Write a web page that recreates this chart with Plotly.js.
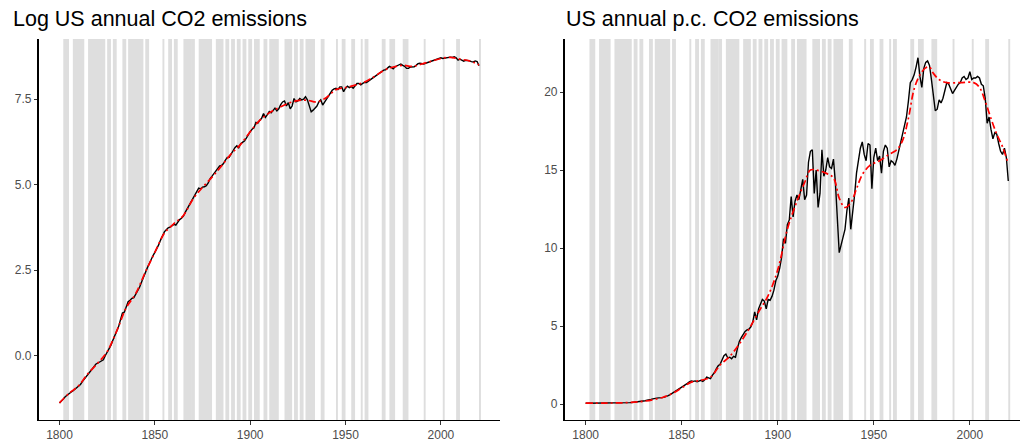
<!DOCTYPE html>
<html>
<head>
<meta charset="utf-8">
<script src="https://cdn.plot.ly/plotly-3.0.1.min.js"></script>
<style>
  html, body { margin: 0; padding: 0; background: #ffffff; }
  #chart { width: 1026px; height: 445px; }
</style>
</head>
<body>
<div id="chart"></div>
<script>
// Annual series, one value per year starting in firstYear
const firstYear = 1800;

// Log of US annual CO2 emissions (million tonnes)
const logCO2 = [
  -1.38, -1.33, -1.27, -1.20, -1.15, -1.10, -1.07, -1.03, -0.98, -0.93,
  -0.90, -0.84, -0.76, -0.68, -0.60, -0.53, -0.47, -0.40, -0.31, -0.25,
  -0.22, -0.19, -0.17, -0.12, 0.00, 0.10, 0.20, 0.31, 0.45, 0.58,
  0.70, 0.85, 1.05, 1.25, 1.27, 1.45, 1.58, 1.62, 1.68, 1.70,
  1.80, 1.90, 2.00, 2.15, 2.30, 2.44, 2.56, 2.68, 2.82, 2.92,
  3.02, 3.12, 3.24, 3.38, 3.52, 3.62, 3.68, 3.74, 3.76, 3.80,
  3.84, 3.82, 3.92, 3.98, 4.02, 4.08, 4.20, 4.30, 4.42, 4.52,
  4.60, 4.70, 4.78, 4.90, 4.88, 4.93, 4.94, 4.97, 5.05, 5.18,
  5.25, 5.33, 5.42, 5.48, 5.55, 5.56, 5.62, 5.72, 5.80, 5.80,
  5.90, 5.97, 6.08, 6.14, 6.08, 6.20, 6.24, 6.28, 6.36, 6.48,
  6.55, 6.62, 6.66, 6.82, 6.80, 6.88, 6.94, 7.08, 6.97, 7.05,
  7.14, 7.10, 7.18, 7.24, 7.16, 7.22, 7.34, 7.42, 7.45, 7.30,
  7.40, 7.22, 7.30, 7.52, 7.42, 7.45, 7.52, 7.48, 7.50, 7.57,
  7.48, 7.32, 7.13, 7.18, 7.24, 7.30, 7.42, 7.48, 7.33, 7.42,
  7.52, 7.60, 7.66, 7.76, 7.80, 7.82, 7.78, 7.86, 7.86, 7.72,
  7.82, 7.88, 7.84, 7.87, 7.82, 7.91, 7.96, 7.96, 7.92, 7.96,
  7.99, 7.99, 8.03, 8.08, 8.12, 8.16, 8.21, 8.24, 8.28, 8.31,
  8.35, 8.36, 8.42, 8.46, 8.43, 8.39, 8.45, 8.48, 8.51, 8.53,
  8.49, 8.46, 8.40, 8.40, 8.44, 8.45, 8.45, 8.49, 8.54, 8.55,
  8.54, 8.53, 8.55, 8.57, 8.60, 8.61, 8.64, 8.66, 8.66, 8.68,
  8.71, 8.69, 8.70, 8.71, 8.73, 8.73, 8.72, 8.74, 8.71, 8.64,
  8.67, 8.65, 8.61, 8.64, 8.64, 8.62, 8.60, 8.59, 8.62, 8.60,
  8.48
];

// US annual per-capita CO2 emissions (tonnes per person)
const pcCO2 = [
  0.05, 0.05, 0.05, 0.05, 0.06, 0.06, 0.06, 0.06, 0.06, 0.06,
  0.06, 0.06, 0.07, 0.07, 0.07, 0.08, 0.08, 0.08, 0.09, 0.09,
  0.08, 0.08, 0.08, 0.09, 0.10, 0.11, 0.12, 0.13, 0.14, 0.16,
  0.18, 0.21, 0.25, 0.30, 0.30, 0.33, 0.37, 0.38, 0.39, 0.38,
  0.41, 0.44, 0.47, 0.53, 0.60, 0.68, 0.75, 0.84, 0.92, 0.98,
  1.05, 1.12, 1.22, 1.32, 1.42, 1.48, 1.45, 1.48, 1.42, 1.47,
  1.52, 1.45, 1.55, 1.72, 1.68, 1.62, 1.85, 2.00, 2.25, 2.45,
  2.55, 2.80, 3.10, 3.20, 2.95, 3.00, 2.90, 3.05, 3.00, 3.55,
  4.00, 4.25, 4.45, 4.65, 4.75, 4.80, 4.95, 5.25, 5.90, 5.40,
  6.10, 6.35, 6.70, 6.60, 6.10, 6.70, 6.65, 6.90, 7.30, 7.90,
  8.20, 8.70, 9.40, 10.60, 10.30, 11.50, 11.80, 13.30, 12.00, 13.00,
  13.40, 13.10, 13.90, 14.40, 13.10, 13.40, 15.50, 16.20, 16.30, 13.50,
  15.00, 12.60, 13.50, 16.30, 14.60, 15.00, 15.80, 15.20, 15.10, 15.70,
  14.20, 12.30, 9.70, 10.20, 10.70, 11.20, 12.40, 13.20, 11.20, 12.20,
  13.40, 14.80, 15.60, 16.40, 16.80, 16.00, 15.60, 16.70, 16.60, 13.80,
  15.80, 16.40, 15.60, 15.90, 14.80, 16.20, 16.60, 16.40, 15.20, 15.60,
  15.50, 15.30, 15.70, 16.20, 16.80, 17.30, 17.90, 18.40, 19.40, 20.60,
  20.80, 21.10, 21.60, 22.20, 21.00, 20.30, 21.50, 21.90, 22.00, 21.70,
  20.80, 19.70, 18.80, 18.90, 19.50, 19.30, 19.60, 20.10, 20.60, 20.50,
  20.20, 19.90, 20.10, 20.30, 20.50, 20.60, 20.90, 21.00, 20.80, 20.90,
  21.30, 20.80, 20.90, 20.90, 21.00, 20.90, 20.50, 20.40, 19.60, 18.00,
  18.40, 17.60, 17.00, 17.40, 17.30, 16.70, 16.20, 16.00, 16.40, 15.80,
  14.30
];

// Smoothed trend of the log series
const logTrendYears = [1800, 1805, 1810, 1815, 1820, 1825, 1830, 1835, 1840, 1845,
  1850, 1855, 1860, 1865, 1870, 1875, 1880, 1885, 1890, 1895,
  1900, 1905, 1910, 1915, 1920, 1925, 1930, 1935, 1940, 1945,
  1950, 1955, 1960, 1965, 1970, 1975, 1980, 1985, 1990, 1995,
  2000, 2005, 2010, 2015, 2020];
const logTrend = [-1.38, -1.10, -0.88, -0.52, -0.22, 0.12, 0.72, 1.40, 1.82, 2.44,
  3.02, 3.58, 3.86, 4.10, 4.58, 4.92, 5.22, 5.55, 5.90, 6.18,
  6.55, 6.88, 7.10, 7.25, 7.38, 7.46, 7.47, 7.42, 7.55, 7.78,
  7.84, 7.91, 8.00, 8.16, 8.34, 8.44, 8.49, 8.46, 8.53, 8.61,
  8.69, 8.72, 8.67, 8.62, 8.50];

// Smoothed trend of the per-capita series
const pcTrendYears = [1800, 1810, 1820, 1830, 1840, 1845, 1850, 1855, 1860, 1865,
  1870, 1875, 1880, 1885, 1890, 1895, 1900, 1905, 1910, 1914,
  1917, 1920, 1925, 1929, 1932, 1935, 1938, 1941, 1944, 1948,
  1953, 1958, 1962, 1965, 1968, 1971, 1974, 1977, 1979, 1981,
  1984, 1988, 1995, 2002, 2005, 2008, 2011, 2014, 2017, 2020];
const pcTrend = [0.05, 0.06, 0.08, 0.17, 0.42, 0.67, 1.03, 1.40, 1.52, 1.72,
  2.50, 3.05, 3.85, 4.80, 5.90, 6.95, 8.60, 11.20, 13.00, 14.20,
  15.00, 15.00, 14.80, 14.50, 13.20, 12.60, 12.90, 13.80, 14.70, 15.30,
  15.60, 16.00, 16.30, 16.90, 18.30, 20.20, 21.10, 21.55, 21.60, 21.20,
  20.80, 20.60, 20.60, 20.60, 20.30, 19.40, 18.30, 17.30, 16.50, 15.40];

// Recession periods (first year, year after the last one)
const recessionStart = [1802, 1807, 1815, 1825, 1828, 1833, 1836, 1845, 1854, 1857,
  1860, 1865, 1869, 1873, 1882, 1887, 1890, 1893, 1896, 1899,
  1902, 1907, 1910, 1918, 1923, 1926, 1929, 1937, 1945, 1948,
  1953, 1958, 1960, 1969, 1973, 1980, 1991, 2001, 2008, 2020];
const recessionEnd = [1805, 1813, 1824, 1827, 1830, 1835, 1844, 1847, 1855, 1859,
  1862, 1869, 1871, 1880, 1886, 1889, 1892, 1895, 1898, 1901,
  1905, 1909, 1915, 1922, 1925, 1928, 1934, 1939, 1946, 1950,
  1955, 1959, 1962, 1971, 1976, 1983, 1992, 2002, 2010, 2021];

const leftTicks = [0, 2.5, 5, 7.5];
const leftTickText = ['0.0', '2.5', '5.0', '7.5'];
const rightTicks = [0, 5, 10, 15, 20];
const yearTicks = [1800, 1850, 1900, 1950, 2000];

const titles = ['Log US annual CO2 emissions', 'US annual p.c. CO2 emissions'];

const years = logCO2.map((_, i) => firstYear + i);

const W = 1026, H = 445;
const font = 'Liberation Sans, Arial, Helvetica, sans-serif';
const trendDash = '7px,3px,2px,3px';

const traces = [
  { x: years, y: logCO2, xaxis: 'x', yaxis: 'y', mode: 'lines',
    line: { color: '#000000', width: 1.4 }, hoverinfo: 'skip' },
  { x: logTrendYears, y: logTrend, xaxis: 'x', yaxis: 'y', mode: 'lines',
    line: { color: '#ff0000', width: 1.7, dash: trendDash, shape: 'spline', smoothing: 1 }, hoverinfo: 'skip' },
  { x: years, y: pcCO2, xaxis: 'x2', yaxis: 'y2', mode: 'lines',
    line: { color: '#000000', width: 1.4 }, hoverinfo: 'skip' },
  { x: pcTrendYears, y: pcTrend, xaxis: 'x2', yaxis: 'y2', mode: 'lines',
    line: { color: '#ff0000', width: 1.7, dash: trendDash, shape: 'spline', smoothing: 1 }, hoverinfo: 'skip' }
];

// grey bands behind both panels
const shapes = [];
['x', 'x2'].forEach((xr, k) => {
  const yr = k === 0 ? 'y domain' : 'y2 domain';
  recessionStart.forEach((s, i) => {
    shapes.push({ type: 'rect', xref: xr, yref: yr, x0: s, x1: recessionEnd[i], y0: 0, y1: 1,
      fillcolor: '#dedede', line: { width: 0 }, layer: 'below' });
  });
});

const yDomain = [1 - 420 / H, 1 - 39 / H];
const tickFont = { family: font, size: 12, color: '#4d4d4d' };
const axisCommon = {
  showgrid: false, zeroline: false, showline: true, linecolor: '#000000', linewidth: 1.1,
  ticks: 'outside', ticklen: 3.5, tickwidth: 1, tickcolor: '#333333', tickfont: tickFont,
  fixedrange: true
};

const layout = {
  width: W, height: H,
  margin: { l: 0, r: 0, t: 0, b: 0 },
  paper_bgcolor: '#ffffff', plot_bgcolor: '#ffffff',
  showlegend: false,
  xaxis: Object.assign({}, axisCommon, {
    domain: [38.5 / W, 500 / W], range: [1789, 2031], anchor: 'y',
    tickvals: yearTicks, ticktext: yearTicks.map(String)
  }),
  yaxis: Object.assign({}, axisCommon, {
    domain: yDomain, range: [-1.88, 9.26], anchor: 'x',
    tickvals: leftTicks, ticktext: leftTickText
  }),
  xaxis2: Object.assign({}, axisCommon, {
    domain: [564.5 / W, 1020 / W], range: [1789, 2026.1], anchor: 'y2',
    tickvals: yearTicks, ticktext: yearTicks.map(String)
  }),
  yaxis2: Object.assign({}, axisCommon, {
    domain: yDomain, range: [-1.026, 23.4], anchor: 'x2',
    tickvals: rightTicks, ticktext: rightTicks.map(String)
  }),
  shapes: shapes,
  annotations: [
    { text: titles[0], xref: 'paper', yref: 'paper', x: 11 / W, y: 1 - 19 / H,
      xanchor: 'left', yanchor: 'middle', showarrow: false,
      font: { family: font, size: 21.5, color: '#000000' } },
    { text: titles[1], xref: 'paper', yref: 'paper', x: 564 / W, y: 1 - 19 / H,
      xanchor: 'left', yanchor: 'middle', showarrow: false,
      font: { family: font, size: 21.5, color: '#000000' } }
  ]
};

Plotly.newPlot('chart', traces, layout, { displayModeBar: false, staticPlot: true });
</script>
</body>
</html>
